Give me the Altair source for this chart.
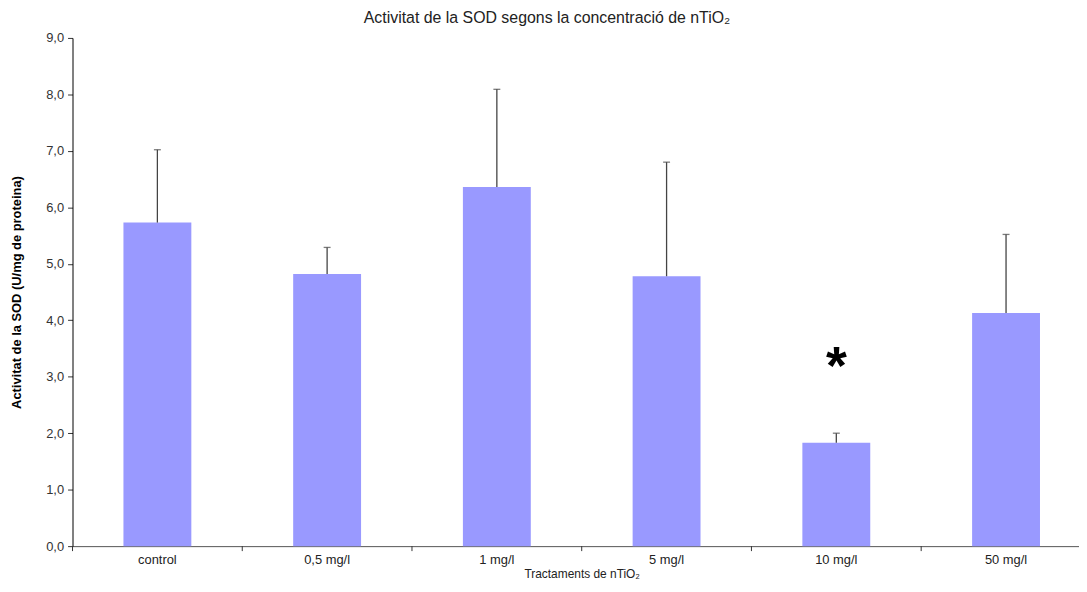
import altair as alt
import pandas as pd

categories = ["control", "0,5 mg/l", "1 mg/l", "5 mg/l", "10 mg/l", "50 mg/l"]
means = [5.73, 4.82, 6.36, 4.78, 1.83, 4.13]
errors = [1.29, 0.47, 1.73, 2.02, 0.17, 1.39]
y_ticks = [0, 1, 2, 3, 4, 5, 6, 7, 8, 9]

star_category = ["10 mg/l"]
star_value = [3.3]
star_text = ["*"]

df = pd.DataFrame({"cat": categories, "mean": means, "err": errors})
df["upper"] = df["mean"] + df["err"]
star_df = pd.DataFrame({"cat": star_category, "v": star_value, "t": star_text})

FONT = "Liberation Sans"
PW = 1014
RANGE_W = 1026
PH = 512
STEP = RANGE_W / len(categories)

xscale = alt.Scale(paddingInner=0.6, paddingOuter=0.3, range=[0, RANGE_W])
x = alt.X("cat:N", sort=categories, scale=xscale,
          axis=alt.Axis(title="Tractaments de nTiO₂", labelAngle=0, ticks=False,
                        labelPadding=8, labelFontSize=13, labelColor="#222",
                        titleFontSize=12, titleFontWeight="normal", titleColor="#222",
                        titlePadding=2, domainColor="#555"))
y = alt.Y("mean:Q", scale=alt.Scale(domain=[0, 9], nice=False),
          axis=alt.Axis(values=y_ticks, labelExpr="replace(format(datum.value,'.1f'),'.',',')",
                        grid=False, title="Activitat de la SOD (U/mg de proteina)",
                        titleFontSize=13, titleFontWeight="bold", titleColor="#000",
                        labelFontSize=13, labelColor="#333", tickSize=5, tickColor="#333",
                        domainColor="#000", labelPadding=4, titlePadding=22))

base = alt.Chart(df)
bars = base.mark_bar(color="#9999FF").encode(x=x, y=y)
rules = base.mark_rule(color="#444", strokeWidth=1.3).encode(
    x=alt.X("cat:N", sort=categories), y="mean:Q", y2="upper:Q")
caps = base.mark_tick(color="#444", size=7, thickness=1.3).encode(
    x=alt.X("cat:N", sort=categories), y="upper:Q")
bticks = base.mark_rule(color="#333", xOffset=-0.3 * STEP).encode(
    x=alt.X("cat:N", sort=categories, bandPosition=0),
    y=alt.value(PH), y2=alt.value(PH + 5))
star = alt.Chart(star_df).mark_text(fontSize=54, fontWeight="bold", font=FONT,
                                    color="#000", baseline="middle", dy=8).encode(
    x=alt.X("cat:N", sort=categories), y="v:Q", text="t:N")

chart = alt.layer(bars, rules, caps, bticks, star).properties(
    width=PW, height=PH,
    title=alt.Title("Activitat de la SOD segons la concentració de nTiO₂",
                    fontSize=16, font=FONT, fontWeight="normal", color="#222",
                    dx=-29, offset=6),
    autosize=alt.AutoSizeParams(type="none"),
    padding={"left": 65, "top": 28, "right": 0, "bottom": 36},
).configure_view(stroke=None).configure_axis(
    labelFont=FONT, titleFont=FONT
)

chart.save("out.html", embed_options={"renderer": "svg", "actions": False})
